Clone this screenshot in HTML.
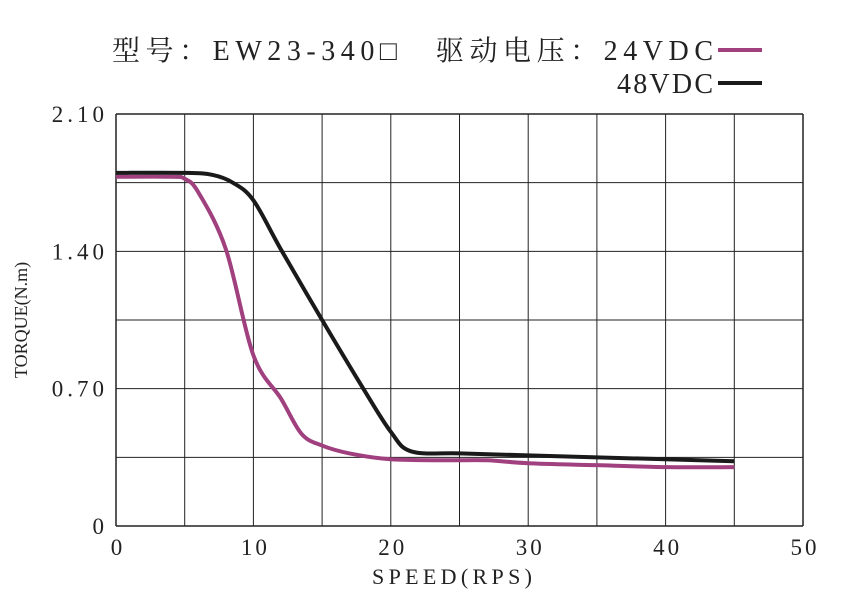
<!DOCTYPE html>
<html><head><meta charset="utf-8"><style>
html,body{margin:0;padding:0;background:#fff;}
svg{display:block;}
text{font-family:"Liberation Serif","Noto Serif CJK SC",serif;fill:#222;}
</style></head><body>
<svg id="chart" width="841" height="599" viewBox="0 0 841 599">
<text x="112" y="60" font-size="28" textLength="601" lengthAdjust="spacing">型号：EW23-340□　驱动电压：24VDC</text>
<text x="617" y="93" font-size="28" textLength="96" lengthAdjust="spacing">48VDC</text>
<line x1="718" y1="50" x2="762" y2="50" stroke="#a0407f" stroke-width="4"/>
<line x1="718" y1="83" x2="762" y2="83" stroke="#1a1a1a" stroke-width="4"/>
<g id="grid"></g><g id="series"></g><g id="labels"></g>
<text x="372" y="584" font-size="22" textLength="160" lengthAdjust="spacing">SPEED(RPS)</text>
<text transform="translate(27,320) rotate(-90)" font-size="18" text-anchor="middle">TORQUE(N.m)</text>
</svg>
<script>
const xTicks=[0,10,20,30,40,50];
const yTickLabels=["0","0.70","1.40","2.10"];
const yTickValues=[0,0.7,1.4,2.1];
const speed24=[0,4,5,6,8,10,12,13.5,15,17,20,24,27,30,35,40,45];
const torque24=[1.78,1.78,1.77,1.70,1.41,0.87,0.65,0.47,0.41,0.37,0.34,0.335,0.335,0.32,0.31,0.30,0.30];
const speed48=[0,5,7,8.5,10,12,15,18,20,21.5,25,30,35,40,45];
const torque48=[1.80,1.80,1.79,1.75,1.66,1.41,1.05,0.70,0.48,0.38,0.37,0.36,0.35,0.34,0.33];
const X0=116,X1=803,Y0=526,Y1=114;
const sx=v=>X0+(v/50)*(X1-X0);
const sy=v=>Y0-(v/2.1)*(Y0-Y1);
const NS="http://www.w3.org/2000/svg";
const grid=document.getElementById('grid');
for(let i=0;i<=10;i++){const l=document.createElementNS(NS,'line');
l.setAttribute('x1',sx(i*5));l.setAttribute('x2',sx(i*5));l.setAttribute('y1',Y1);l.setAttribute('y2',Y0);
l.setAttribute('stroke','#222');l.setAttribute('stroke-width',i==0||i==10?1.5:1);


grid.appendChild(l);}
for(let i=0;i<=6;i++){const l=document.createElementNS(NS,'line');
l.setAttribute('y1',sy(i*0.35));l.setAttribute('y2',sy(i*0.35));l.setAttribute('x1',X0);l.setAttribute('x2',X1);
l.setAttribute('stroke','#222');l.setAttribute('stroke-width',i==0||i==6?1.5:1);


grid.appendChild(l);}
const labels=document.getElementById('labels');
xTicks.forEach(v=>{const t=document.createElementNS(NS,'text');
t.setAttribute('x',sx(v)+2);t.setAttribute('y',555);t.setAttribute('font-size',23);t.setAttribute('text-anchor','middle');
t.setAttribute('letter-spacing','3');
t.textContent=v;


labels.appendChild(t);});
yTickValues.forEach((v,i)=>{const t=document.createElementNS(NS,'text');
t.setAttribute('x',108);t.setAttribute('y',sy(v)+8);t.setAttribute('font-size',23);t.setAttribute('text-anchor','end');
t.setAttribute('letter-spacing','4');
t.textContent=yTickLabels[i];


labels.appendChild(t);});
function smooth(xs,ys){const p=xs.map((x,i)=>[sx(x),sy(ys[i])]);let d='M'+p[0][0]+','+p[0][1];
for(let i=0;i<p.length-1;i++){const a=p[i-1]||p[i],b=p[i],c=p[i+1],e=p[i+2]||c;
d+=' C'+(b[0]+(c[0]-a[0])/6)+','+(b[1]+(c[1]-a[1])/6)+' '+(c[0]-(e[0]-b[0])/6)+','+(c[1]-(e[1]-b[1])/6)+' '+c[0]+','+c[1];}
return d;}
const series=document.getElementById('series');
const p24=document.createElementNS(NS,'path');
p24.setAttribute('d',smooth(speed24,torque24));p24.setAttribute('fill','none');p24.setAttribute('stroke','#a0407f');p24.setAttribute('stroke-width',4);


series.appendChild(p24);
const p48=document.createElementNS(NS,'path');
p48.setAttribute('d',smooth(speed48,torque48));p48.setAttribute('fill','none');p48.setAttribute('stroke','#1a1a1a');p48.setAttribute('stroke-width',4);


series.appendChild(p48);
</script>
</body></html>
